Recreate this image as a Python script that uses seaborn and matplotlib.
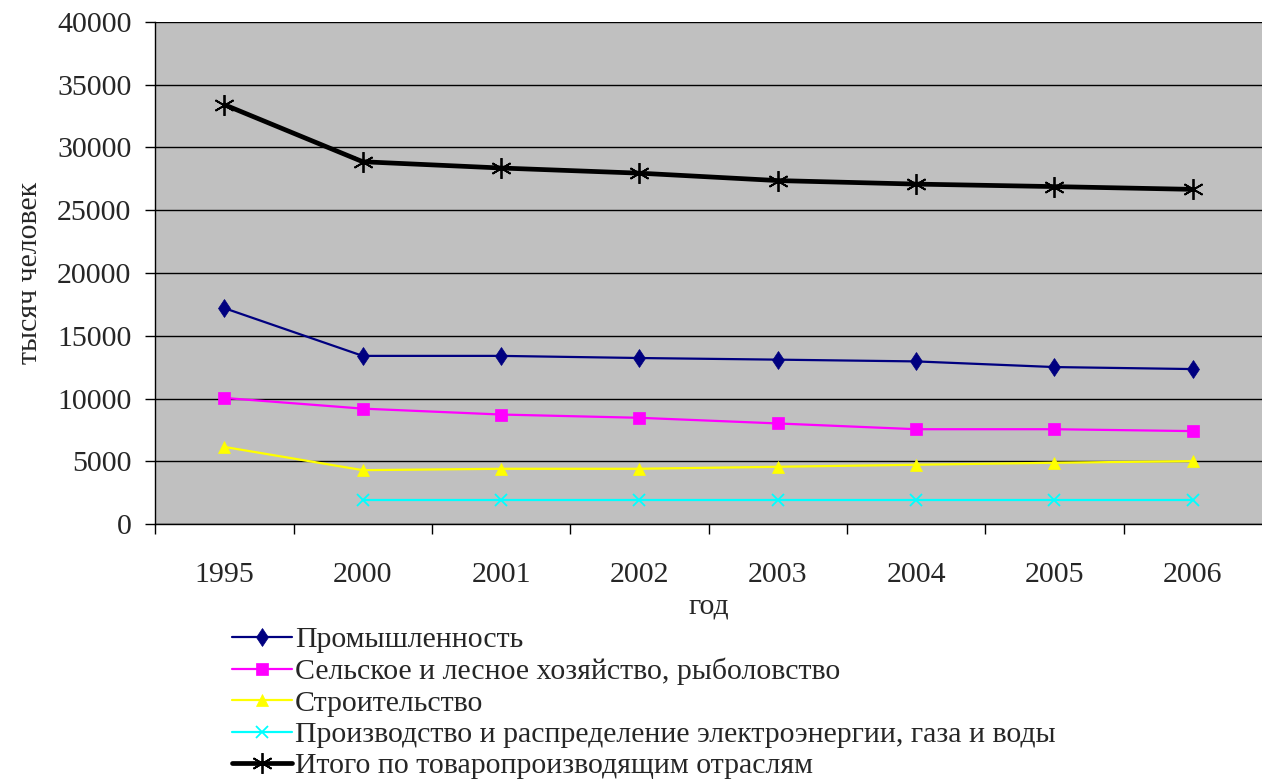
import matplotlib
matplotlib.use("Agg")
import matplotlib.pyplot as plt
import seaborn as sns
import numpy as np
import pandas as pd
from matplotlib.ticker import FixedLocator, MultipleLocator

years = ["1995", "2000", "2001", "2002", "2003", "2004", "2005", "2006"]
industry = [17200, 13400, 13400, 13230, 13100, 12960, 12510, 12350]
agriculture = [10050, 9200, 8730, 8470, 8020, 7560, 7560, 7410]
construction = [6150, 4300, 4410, 4410, 4570, 4730, 4890, 5020]
utilities = [np.nan, 1900, 1900, 1900, 1900, 1900, 1900, 1900]
total = [33400, 28860, 28360, 27950, 27360, 27080, 26880, 26660]

labels = [
    "Промышленность",
    "Сельское и лесное хозяйство, рыболовство",
    "Строительство",
    "Производство и распределение электроэнергии, газа и воды",
    "Итого по товаропроизводящим отраслям",
]
series = [industry, agriculture, construction, utilities, total]
colors = ["#000080", "#FF00FF", "#FFFF00", "#00FFFF", "#000000"]
markers = ["d", "s", "^", "x", (6, 2, 0)]
msizes = [9.5, 8, 9, 9, 15]
lwidths = [1.6, 1.6, 1.6, 1.6, 3.4]

FS = 21.5

sns.set_theme(style="white")
plt.rcParams["font.family"] = ["Liberation Serif", "DejaVu Serif"]
plt.rcParams["font.size"] = FS

fig = plt.figure(figsize=(12.62, 7.8), dpi=100)
ax = fig.add_axes([0.123, 0.328, 0.877, 0.644])
ax.set_facecolor("#C0C0C0")

for lab, vals, c, m, ms, lw in zip(labels, series, colors, markers, msizes, lwidths):
    df = pd.DataFrame({"year": years, "value": vals})
    sns.lineplot(data=df, x="year", y="value", ax=ax, color=c, marker=m,
                 markersize=ms, linewidth=lw, label=lab,
                 markeredgecolor=c, markerfacecolor=c,
                 markeredgewidth=1.3 if m in ("x", (6, 2, 0)) else 0.5,
                 sort=False, zorder=3)

ax.set_xlim(-0.5, len(years) - 0.5)
ax.set_ylim(0, 40000)
ax.yaxis.set_major_locator(MultipleLocator(5000))
ax.grid(axis="y", color="black", linewidth=1.0, zorder=1)
ax.grid(axis="x", visible=False)
for s in ["top", "right"]:
    ax.spines[s].set_visible(False)
for s in ["left", "bottom"]:
    ax.spines[s].set_visible(True)
    ax.spines[s].set_color("black")
    ax.spines[s].set_linewidth(1.0)

ax.set_xticks(range(len(years)))
ax.set_xticklabels(years)
ax.tick_params(axis="x", which="major", length=0, pad=27, labelsize=FS)
ax.xaxis.set_minor_locator(FixedLocator(np.arange(-0.5, len(years) - 0.9, 1.0)))
ax.tick_params(axis="x", which="minor", length=7, width=1, color="black", direction="out", bottom=True)
ax.tick_params(axis="y", which="major", length=7, width=1, color="black", direction="out",
               left=True, labelsize=FS, pad=10)

ax.set_xlabel("год", fontsize=FS, labelpad=4)
ax.set_ylabel("тысяч человек", fontsize=FS, labelpad=10)

handles, labs = ax.get_legend_handles_labels()
leg = fig.legend(handles, labs, loc="upper left", bbox_to_anchor=(0.184, 0.197),
                 frameon=False, fontsize=FS, handlelength=2.0, handletextpad=0.1,
                 labelspacing=0.15, borderaxespad=0, borderpad=0)
ax.get_legend().remove()

fig.savefig("out.png", dpi=100)
